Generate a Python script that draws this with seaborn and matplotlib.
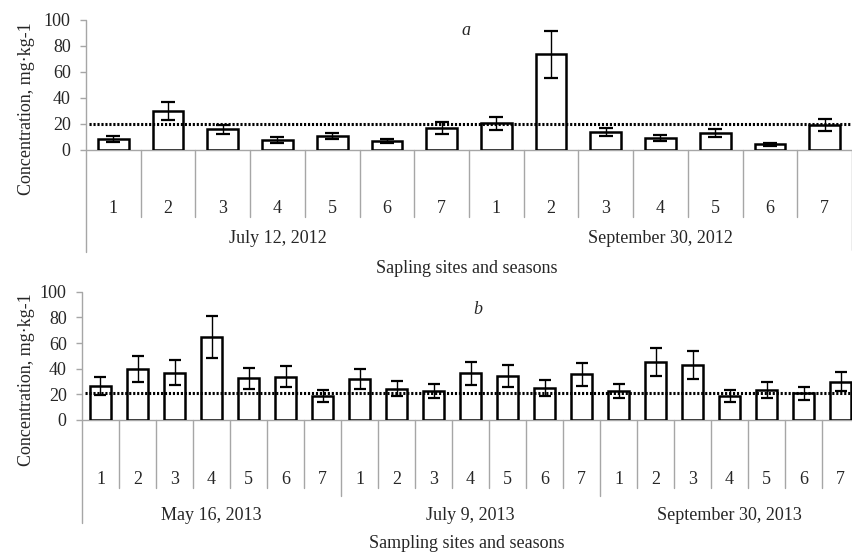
import matplotlib
matplotlib.use("Agg")
import matplotlib.pyplot as plt
import seaborn as sns
import pandas as pd
import numpy as np

# ---------------- data ----------------
sites = ["1", "2", "3", "4", "5", "6", "7"]

groups_a = ["July 12, 2012", "September 30, 2012"]
values_a = [8.5, 30, 16, 7.7, 10.8, 7, 17,
            20.5, 73.5, 14, 9, 12.8, 4.4, 19.2]
errors_a = [2.3, 7, 3.5, 2, 2.6, 1.7, 4.5,
            5, 18, 3.2, 2.2, 3, 1.2, 4.8]
limit_a = 20

groups_b = ["May 16, 2013", "July 9, 2013", "September 30, 2013"]
values_b = [26.5, 40, 36.9, 64.7, 32.5, 33.8, 18.7,
            31.7, 24.4, 22.6, 36.4, 34.3, 24.7, 35.6,
            22.6, 45, 42.9, 18.7, 23.4, 20.8, 29.9]
errors_b = [6.7, 10, 9.5, 16, 8, 8, 5,
            7.8, 5.8, 5.7, 9, 8.5, 6.2, 9,
            5.5, 11, 10.8, 4.4, 6, 5.2, 7.5]
limit_b = 21

yticks = [0, 20, 40, 60, 80, 100]
ylabel = "Concentration, mg·kg-1"
xtitle_a = "Sapling sites and seasons"
xtitle_b = "Sampling sites and seasons"

# ---------------- style ----------------
sns.set_style("white")
plt.rcParams["font.family"] = ["Liberation Serif", "DejaVu Serif"]
GRAY = "#a6a6a6"
FS = 13

W, H = 853, 553
fig = plt.figure(figsize=(W / 100, H / 100), dpi=100)


def make_panel(left_px, y0_px, y100_px, width_px, groups, values, errors,
               limit, sep_end, grp_sep_end, axis_end, right_end,
               tick_base, grp_base, title_base, title, letter, letter_xy,
               capsize, ylabel_center):
    n = len(values)
    hpx = y0_px - y100_px
    ax = fig.add_axes([left_px / W, 1 - y0_px / H, width_px / W, hpx / H])

    def fy(ypx):
        return (y0_px - ypx) / hpx

    keys = [f"{g}|{s}" for g in groups for s in sites]
    df = pd.DataFrame({"key": keys, "value": values})
    sns.barplot(data=df, x="key", y="value", order=keys, color="white",
                edgecolor="black", linewidth=1.8, width=0.56,
                errorbar=None, ax=ax, zorder=3, saturation=1)
    ax.errorbar(np.arange(n), values, yerr=errors, fmt="none",
                ecolor="black", elinewidth=1, capsize=capsize,
                capthick=1.6, zorder=4)
    ax.axhline(limit, xmin=0.004, xmax=1, color="black", lw=2.2,
               ls=(0, (0.7, 0.6)), zorder=5)

    ax.set_xlim(-0.5, n - 0.5)
    ax.set_ylim(0, 100)
    ax.set_yticks(yticks)
    ax.set_yticklabels([str(t) for t in yticks], fontsize=FS)
    ax.tick_params(axis="y", direction="out", length=4, width=1,
                   color=GRAY, pad=7, left=True)
    ax.set_xticks([])
    ax.set_xlabel("")
    ax.set_ylabel("")
    for sp in ax.spines.values():
        sp.set_visible(False)

    tr = ax.get_xaxis_transform()
    # baseline (y=0) line
    ax.plot([-0.5, n - 0.5], [0, 0], transform=tr, color=GRAY, lw=1,
            clip_on=False, zorder=2)
    # left axis line, extended down through label area
    ax.plot([-0.5, -0.5], [1, fy(axis_end)], transform=tr, color=GRAY,
            lw=1, clip_on=False, zorder=2)
    ax.plot([n - 0.5, n - 0.5], [0, fy(right_end)], transform=tr,
            color=GRAY, lw=1, clip_on=False, zorder=2)
    # category separators
    for k in range(1, n):
        end = grp_sep_end if k % len(sites) == 0 else sep_end
        ax.plot([k - 0.5, k - 0.5], [0, fy(end)], transform=tr,
                color=GRAY, lw=1, clip_on=False, zorder=2)
    # category labels
    for i in range(n):
        ax.text(i, fy(tick_base), sites[i % len(sites)], transform=tr,
                ha="center", va="baseline", fontsize=FS)
    # group labels
    for gi, g in enumerate(groups):
        c = gi * len(sites) + (len(sites) - 1) / 2
        ax.text(c, fy(grp_base), g, transform=tr, ha="center",
                va="baseline", fontsize=FS)
    # axis title
    fig.text(467 / W, 1 - title_base / H, title, ha="center",
             va="baseline", fontsize=FS)
    # panel letter
    fig.text(letter_xy[0] / W, 1 - letter_xy[1] / H, letter, ha="center",
             va="baseline", fontsize=FS, style="italic")
    # y label
    fig.text(27 / W, 1 - ylabel_center / H, ylabel, rotation=90,
             ha="center", va="center", fontsize=FS)
    return ax


make_panel(86, 150, 20, 766, groups_a, values_a, errors_a, limit_a,
           sep_end=217, grp_sep_end=217, axis_end=252, right_end=250,
           tick_base=213, grp_base=243, title_base=273,
           title=xtitle_a, letter="a", letter_xy=(466, 35),
           capsize=5, ylabel_center=109)

make_panel(82, 420, 291.7, 777, groups_b, values_b, errors_b, limit_b,
           sep_end=488, grp_sep_end=496, axis_end=523, right_end=523,
           tick_base=484, grp_base=520, title_base=548,
           title=xtitle_b, letter="b", letter_xy=(478, 314),
           capsize=4, ylabel_center=380)

fig.savefig("out.png", dpi=100)
